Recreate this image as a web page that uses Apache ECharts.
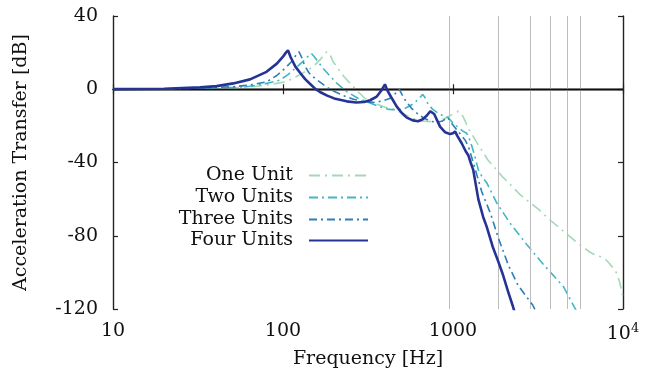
<!DOCTYPE html>
<html>
<head>
<meta charset="utf-8">
<script src="https://cdn.jsdelivr.net/npm/echarts@6/dist/echarts.min.js"></script>
<style>
html,body{margin:0;padding:0;background:#fff;}
#chart{width:650px;height:383px;}
</style>
</head>
<body>
<div id="chart"></div>
<script>
// ---- data (frequency [Hz], acceleration transfer [dB]) ----
const seriesNames = ['One Unit', 'Two Units', 'Three Units', 'Four Units'];

const oneUnit = [
  [10,0.02],[20,0.1],[32.5,0.3],[51,0.8],[64,1.3],[80,2.2],[105,4.2],[126,8],[150,12.3],[165,16],
  [175,19],[181,20.5],[190,18.5],[197,15],[207,12.5],[216,9.6],[228,7],[248,3.3],[276,-1.3],[303,-4.9],
  [350,-7.8],[400,-9.8],[445,-10.8],[488,-12.5],[583,-16],[650,-17.3],[733,-17.7],[820,-17],[900,-15.8],
  [980,-14],[1075,-12],[1110,-13],[1148,-15],[1200,-19],[1230,-21.5],[1300,-25],[1380,-29],[1600,-38.5],
  [1807,-44],[1962,-48],[2070,-50],[2477,-57.5],[3177,-65.5],[3724,-71.4],[4600,-78.5],[5580,-85],
  [6400,-89],[7000,-90.8],[7500,-91.6],[7900,-93],[8300,-95],[8770,-97.8],[9190,-100.5],[9600,-106],
  [9850,-110.5],[10000,-114]
];

const twoUnits = [
  [10,0.02],[20,0.15],[32.5,0.4],[51,1],[64,1.6],[77,2.8],[96,5],[107,8],[120,12],[134,16],
  [142,18.5],[147,19.5],[152,18],[161,15],[172,11.5],[185,8.2],[207,3.3],[237,-1.3],[276,-4.9],[310,-6.8],
  [370,-9.5],[420,-11],[470,-11.3],[520,-10.5],[560,-9],[600,-7],[640,-4.5],[662,-2.8],[685,-4.5],
  [710,-7.7],[760,-11],[830,-13.5],[900,-15],[935,-15.5],[980,-17.5],[1060,-20.5],[1150,-23],[1203,-24],
  [1260,-28],[1330,-35],[1409,-44],[1476,-47.5],[1578,-51],[1807,-62],[2160,-73],[2730,-85],[3430,-96],
  [4480,-108],[5220,-119.6],[5350,-121.5]
];

const threeUnits = [
  [10,0.03],[20,0.2],[32.5,0.6],[51,1.4],[64,2.3],[80,4],[92,7.5],[103,11.5],[112,15],[118,18],
  [124,20.5],[128,18],[134,13],[142,9],[154,6],[173,2.5],[193,-0.5],[227,-3.5],[260,-5.5],[300,-6.8],
  [340,-7.2],[380,-6.5],[425,-5],[455,-2.5],[484,0],[495,-2],[520,-5.5],[570,-10.4],[620,-13.5],
  [680,-16],[740,-17.5],[800,-18],[860,-17.5],[910,-16],[935,-15.5],[970,-18],[1050,-22],[1177,-27.7],
  [1230,-31],[1315,-40],[1409,-49.5],[1476,-56],[1660,-67.7],[1845,-81],[2115,-96],[2410,-107],
  [2950,-118],[3080,-121.5]
];

const fourUnits = [
  [10,0.05],[20,0.3],[32.5,1.0],[40.7,1.7],[51,3.2],[64,5.4],[80,9.5],[92,14],[100,17.8],[104,20],
  [107,21.3],[111,17.5],[118,12.5],[126,9],[135,5.5],[144,3],[155,0.2],[165,-1.5],[182,-3.5],[200,-5],
  [237,-6.6],[270,-7.2],[300,-7],[325,-6],[356,-4],[380,-0.5],[398,2.7],[410,-0.5],[434,-4.5],[467,-9.5],
  [500,-13],[535,-15.5],[580,-17],[622,-17.5],[660,-16.5],[700,-14.5],[735,-12],[750,-11.3],[775,-13.5],
  [839,-20.4],[900,-23.5],[960,-24.5],[1000,-24],[1028,-23],[1060,-25.5],[1125,-29.5],[1190,-34],
  [1230,-36],[1270,-40],[1315,-44],[1409,-60],[1503,-69.6],[1578,-75],[1712,-86],[1845,-94],
  [1962,-101],[2100,-110],[2250,-118.5],[2300,-121.5]
];

const gridFreqs = [945, 1850, 2830, 3730, 4670, 5610];
const yTicks = [-120, -80, -40, 0, 40];

// ---- chart ----
const FONT = 'DejaVu Serif';
const colors = ['#a1dab4', '#41b6c4', '#2c7fb8', '#253494'];
const dashes = [[11,5,2,5], [9,4,2,4], [8,4,2,4], 'solid'];
const widths = [1.6, 1.6, 1.6, 2.6];
const allData = [oneUnit, twoUnits, threeUnits, fourUnits];
const legendTops = [161, 183, 205, 226];

const chart = echarts.init(document.getElementById('chart'), null, {renderer: 'canvas'});

const axisLineStyle = {color: '#222', width: 1.4};

const series = allData.map((d, i) => ({
  name: seriesNames[i],
  type: 'line',
  data: d,
  showSymbol: false,
  symbol: 'none',
  symbolSize: 0,
  smooth: false,
  clip: true,
  z: 3 + i,
  lineStyle: {color: colors[i], width: widths[i], type: dashes[i]},
  itemStyle: {color: colors[i]}
}));

series.unshift({
  type: 'line',
  data: [],
  silent: true,
  z: 1,
  markLine: {
    silent: true,
    symbol: 'none',
    label: {show: false},
    animation: false,
    data: gridFreqs.map(f => ({xAxis: f, lineStyle: {color: '#bdbdbd', width: 1, type: 'solid'}}))
      .concat([{yAxis: 0, lineStyle: {color: '#111', width: 1.3, type: 'solid'}}])
  }
});

const legends = seriesNames.map((n, i) => ({
  data: [n],
  orient: 'vertical',
  align: 'right',
  right: 276,
  top: legendTops[i],
  itemWidth: 59,
  itemHeight: 14,
  selectedMode: false,
  itemStyle: {opacity: 0, borderWidth: 0},
  textStyle: {fontFamily: FONT, fontSize: 19, color: '#111', padding: [0, 11, 0, 0]}
}));

const option = {
  animation: false,
  backgroundColor: '#fff',
  textStyle: {fontFamily: FONT},
  legend: legends,
  grid: {left: 113, right: 27, top: 16, bottom: 74, containLabel: false},
  xAxis: [{
    type: 'log', logBase: 10, min: 10, max: 10000,
    name: 'Frequency [Hz]', nameLocation: 'middle', nameGap: 41,
    nameTextStyle: {fontFamily: FONT, fontSize: 19, color: '#111'},
    axisLine: {show: true, lineStyle: axisLineStyle},
    axisTick: {show: true, inside: true, length: 5, lineStyle: {color: '#222', width: 1.2}},
    minorTick: {show: false},
    splitLine: {show: false},
    axisLabel: {
      margin: 13, color: '#111', fontFamily: FONT, fontSize: 19,
      formatter: v => Math.round(v) === 10000 ? '{a|10}{s|4}' : String(Math.round(v)),
      rich: {
        a: {fontFamily: FONT, fontSize: 19, color: '#111', verticalAlign: 'bottom', lineHeight: 22},
        s: {fontFamily: FONT, fontSize: 13, color: '#111', verticalAlign: 'top', lineHeight: 22, padding: [0,0,8,0]}
      }
    }
  }, {
    type: 'log', logBase: 10, min: 10, max: 10000, position: 'top',
    axisLine: {show: true, lineStyle: axisLineStyle},
    axisTick: {show: true, inside: true, length: 5, lineStyle: {color: '#222', width: 1.2}},
    axisLabel: {show: false}, splitLine: {show: false}
  }],
  yAxis: [{
    type: 'value', min: -120, max: 40, interval: 40,
    name: 'Acceleration Transfer [dB]', nameLocation: 'middle', nameGap: 82, nameRotate: 90,
    nameTextStyle: {fontFamily: FONT, fontSize: 19, color: '#111'},
    axisLine: {show: true, lineStyle: axisLineStyle},
    axisTick: {show: true, inside: true, length: 5, lineStyle: {color: '#222', width: 1.2}},
    splitLine: {show: false},
    axisLabel: {margin: 15, color: '#111', fontFamily: FONT, fontSize: 19,
      formatter: v => yTicks.includes(v) ? String(v) : ''}
  }, {
    type: 'value', min: -120, max: 40, interval: 40, position: 'right',
    axisLine: {show: true, lineStyle: axisLineStyle},
    axisTick: {show: true, inside: true, length: 5, lineStyle: {color: '#222', width: 1.2}},
    axisLabel: {show: false}, splitLine: {show: false}
  }],
  series: series
};

chart.setOption(option);
</script>
</body>
</html>
